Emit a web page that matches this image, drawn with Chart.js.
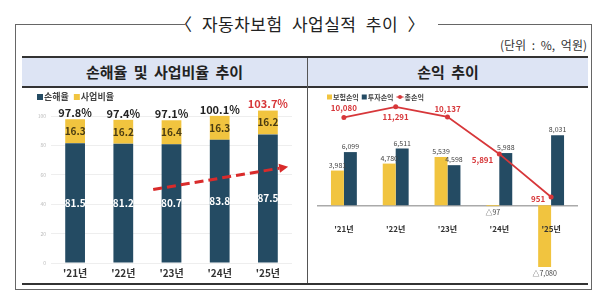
<!DOCTYPE html>
<html>
<head>
<meta charset="utf-8">
<script src="https://cdn.jsdelivr.net/npm/chart.js@4.4.1/dist/chart.umd.min.js"></script>
<style>
body { margin:0; width:600px; height:300px; background:#fff; position:relative; overflow:hidden;
       font-family:"Noto Sans CJK KR", "Noto Sans", sans-serif; color:#222; }
.abs { position:absolute; }
.ln { position:absolute; background:#666; }
#title { left:0; top:12px; width:600px; text-align:center; font-size:17px; line-height:24px; word-spacing:5px; letter-spacing:0.5px; }
#unit { right:13px; top:37px; font-size:12px; line-height:16px; color:#333; word-spacing:3px; }
#head { left:22px; top:56px; width:566px; height:28px; background:#dde4f4;
        border-top:2px solid #333; border-bottom:2px solid #333; }
#head div { position:absolute; top:0; line-height:28px; text-align:center; font-size:15px; font-weight:bold; word-spacing:3px; }
</style>
</head>
<body>
<div id="title" class="abs">〈 자동차보험 사업실적 추이 〉</div>
<div class="ln" style="left:15px;top:24px;width:170px;height:1px"></div>
<div class="ln" style="left:438px;top:24px;width:154px;height:1px"></div>
<div class="ln" style="left:15px;top:24px;width:1px;height:265px"></div>
<div class="ln" style="left:591px;top:24px;width:1px;height:265px"></div>
<div class="ln" style="left:15px;top:289px;width:577px;height:1px"></div>
<div id="unit" class="abs">(단위 : %, 억원)</div>
<div id="head" class="abs">
  <div style="left:0;width:285px">손해율 및 사업비율 추이</div>
  <div style="left:286px;width:280px">손익 추이</div>
</div>
<div class="ln" style="left:307px;top:58px;width:1px;height:226px;background:#555"></div>
<div class="ln" style="left:22px;top:283px;width:566px;height:2px;background:#333"></div>

<canvas id="ratioChart" class="abs" width="284" height="193" style="left:22px;top:89px"></canvas>
<canvas id="profitChart" class="abs" width="279" height="193" style="left:309px;top:89px"></canvas>

<script>
const years = ["'21년", "'22년", "'23년", "'24년", "'25년"];

// 손해율 / 사업비율 (%)
const lossRatio = [81.5, 81.2, 80.7, 83.8, 87.5];
const expenseRatio = [16.3, 16.2, 16.4, 16.3, 16.2];
const combinedRatio = [97.8, 97.4, 97.1, 100.1, 103.7];
const ratioTicks = [0, 20, 40, 60, 80, 100];

// 손익 (억원)
const insProfit = [3981, 4780, 5539, -97, -7080];
const invProfit = [6099, 6511, 4598, 5988, 8031];
const totalProfit = [10080, 11291, 10137, 5891, 951];

const NAVY = '#244b63';
const YELLOW = '#f1c43f';
const RED = '#d7373a';
const FONT = '"Noto Sans CJK KR", "Noto Sans", sans-serif';

// small legend drawn on the canvas
const miniLegend = {
  id: 'miniLegend',
  afterDraw(chart, args, opts) {
    const ctx = chart.ctx;
    ctx.save();
    ctx.font = opts.font;
    ctx.textBaseline = 'middle';
    let x = opts.x;
    const y = opts.y;
    chart.data.datasets.forEach(ds => {
      if (ds.type === 'line') {
        ctx.strokeStyle = ds.borderColor;
        ctx.lineWidth = 1.2;
        ctx.beginPath(); ctx.moveTo(x, y); ctx.lineTo(x + 7, y); ctx.stroke();
        ctx.fillStyle = ds.borderColor;
        ctx.beginPath(); ctx.arc(x + 3.5, y, 2, 0, Math.PI * 2); ctx.fill();
        x += 8;
      } else {
        ctx.fillStyle = ds.backgroundColor;
        ctx.fillRect(x, y - opts.box / 2, opts.box, opts.box);
        x += opts.box + 1;
      }
      ctx.fillStyle = opts.color;
      ctx.fillText(ds.label, x, y);
      x += ctx.measureText(ds.label).width + opts.gap;
    });
    ctx.restore();
  }
};

const trendArrow = { from: [1.62, 50], to: [4.42, 65.5] };

const ratioLabels = {
  id: 'ratioLabels',
  afterDatasetsDraw(chart) {
    const ctx = chart.ctx;
    const m0 = chart.getDatasetMeta(0), m1 = chart.getDatasetMeta(1);
    ctx.save();
    ctx.textAlign = 'center';
    m0.data.forEach((bar, i) => {
      const b1 = m1.data[i];
      ctx.font = 'bold 10px ' + FONT;
      ctx.textBaseline = 'middle';
      ctx.fillStyle = '#fff';
      ctx.fillText(lossRatio[i].toFixed(1), bar.x, (bar.y + bar.base) / 2);
      ctx.fillStyle = '#4a3c12';
      ctx.fillText(expenseRatio[i].toFixed(1), b1.x, (b1.y + b1.base) / 2);
      ctx.font = 'bold 11px ' + FONT;
      ctx.textBaseline = 'bottom';
      ctx.fillStyle = i === combinedRatio.length - 1 ? RED : '#222';
      ctx.fillText(combinedRatio[i].toFixed(1) + '%', b1.x, b1.y - 1);
    });

    // dashed red trend arrow
    const xs = chart.scales.x, ys = chart.scales.y;
    const x1 = xs.getPixelForValue(trendArrow.from[0]), y1 = ys.getPixelForValue(trendArrow.from[1]);
    const x2 = xs.getPixelForValue(trendArrow.to[0]), y2 = ys.getPixelForValue(trendArrow.to[1]);
    const ang = Math.atan2(y2 - y1, x2 - x1);
    const hl = 9;
    ctx.strokeStyle = '#d92b2b';
    ctx.fillStyle = '#d92b2b';
    ctx.lineWidth = 3;
    ctx.setLineDash([9, 5]);
    ctx.beginPath();
    ctx.moveTo(x1, y1);
    ctx.lineTo(x2 - hl * Math.cos(ang), y2 - hl * Math.sin(ang));
    ctx.stroke();
    ctx.setLineDash([]);
    ctx.beginPath();
    ctx.moveTo(x2, y2);
    ctx.lineTo(x2 - hl * Math.cos(ang) + 4.5 * Math.sin(ang), y2 - hl * Math.sin(ang) - 4.5 * Math.cos(ang));
    ctx.lineTo(x2 - hl * Math.cos(ang) - 4.5 * Math.sin(ang), y2 - hl * Math.sin(ang) + 4.5 * Math.cos(ang));
    ctx.closePath();
    ctx.fill();
    ctx.restore();
  }
};

const rChart = document.getElementById('ratioChart').getContext('2d');
const ratioChart = new Chart(rChart, {
  type: 'bar',
  data: {
    labels: years,
    datasets: [
      { label: '손해율', data: lossRatio, backgroundColor: NAVY, clip: false },
      { label: '사업비율', data: expenseRatio, backgroundColor: YELLOW, clip: false },
    ],
  },
  options: {
    responsive: false,
    animation: false,
    devicePixelRatio: 1,
    layout: { padding: { top: 27, right: 14, left: 0, bottom: 0 } },
    datasets: { bar: { categoryPercentage: 1, barPercentage: 0.41 } },
    scales: {
      x: {
        stacked: true,
        grid: { display: false, drawTicks: false },
        border: { display: false },
        ticks: { color: '#333', font: { size: 10, weight: 'bold', family: FONT }, padding: 4 },
        afterFit: s => { s.height = 19; },
      },
      y: {
        stacked: true,
        min: 0,
        max: 100,
        afterBuildTicks: s => { s.ticks = ratioTicks.map(v => ({ value: v })); },
        grid: { color: '#eeeeee', drawTicks: false },
        border: { display: false },
        ticks: { color: '#bbbbbb', font: { size: 5, family: FONT }, padding: 5 },
        afterFit: s => { s.width = 29; },
      },
    },
    plugins: {
      legend: { display: false },
      tooltip: { enabled: false },
      miniLegend: { x: 15, y: 8, box: 6, gap: 5, color: '#444', font: 'bold 9px ' + FONT },
    },
  },
  plugins: [miniLegend, ratioLabels],
});

// label offsets for 총손익 values
const totalLabelPos = [[0, -9, 'center'], [0, 10, 'center'], [0, -8, 'center'], [-6, 6, 'right'], [-6, 2, 'right']];
const fmt = v => (v < 0 ? '△' : '') + Math.abs(v).toLocaleString('en-US');

const profitLabels = {
  id: 'profitLabels',
  afterDatasetsDraw(chart) {
    const ctx = chart.ctx;
    ctx.save();
    ctx.textAlign = 'center';
    ctx.font = '7px ' + FONT;
    ctx.fillStyle = '#444';
    [0, 1].forEach(d => {
      const vals = chart.data.datasets[d].data;
      chart.getDatasetMeta(d).data.forEach((bar, i) => {
        if (vals[i] >= 0) {
          ctx.textBaseline = 'bottom';
          ctx.fillText(fmt(vals[i]), bar.x, bar.y - 2);
        } else {
          ctx.textBaseline = 'top';
          ctx.fillText(fmt(vals[i]), bar.x, bar.y + 3);
        }
      });
    });
    ctx.font = 'bold 8px ' + FONT;
    ctx.fillStyle = RED;
    ctx.textBaseline = 'middle';
    chart.getDatasetMeta(2).data.forEach((pt, i) => {
      const p = totalLabelPos[i];
      ctx.textAlign = p[2];
      ctx.fillText(fmt(totalProfit[i]), pt.x + p[0], pt.y + p[1]);
    });
    ctx.restore();
  }
};

const pChart = document.getElementById('profitChart').getContext('2d');
const profitChart = new Chart(pChart, {
  type: 'bar',
  data: {
    labels: years,
    datasets: [
      { label: '보험손익', data: insProfit, backgroundColor: YELLOW, order: 2 },
      { label: '투자손익', data: invProfit, backgroundColor: NAVY, order: 2 },
      {
        type: 'line', label: '총손익', data: totalProfit, order: 0,
        borderColor: RED, backgroundColor: RED, borderWidth: 1.8,
        pointRadius: 2.5, pointBackgroundColor: RED, pointBorderWidth: 0, clip: false,
      },
    ],
  },
  options: {
    responsive: false,
    animation: false,
    devicePixelRatio: 1,
    layout: { padding: { top: 16, right: 11, left: 9, bottom: 7 } },
    datasets: { bar: { categoryPercentage: 0.5, barPercentage: 1 } },
    scales: {
      x: {
        position: { y: 0 },
        grid: { display: false, drawTicks: false },
        border: { display: true, color: '#aaaaaa', width: 1.5 },
        ticks: { z: 1, color: '#333', font: { size: 8, weight: 'bold', family: FONT }, padding: 19 },
      },
      y: { display: false, min: -8000, max: 11500 },
    },
    plugins: {
      legend: { display: false },
      tooltip: { enabled: false },
      miniLegend: { x: 18, y: 8, box: 5, gap: 3, color: '#444', font: 'bold 7px ' + FONT },
    },
  },
  plugins: [miniLegend, profitLabels],
});
</script>
</body>
</html>
